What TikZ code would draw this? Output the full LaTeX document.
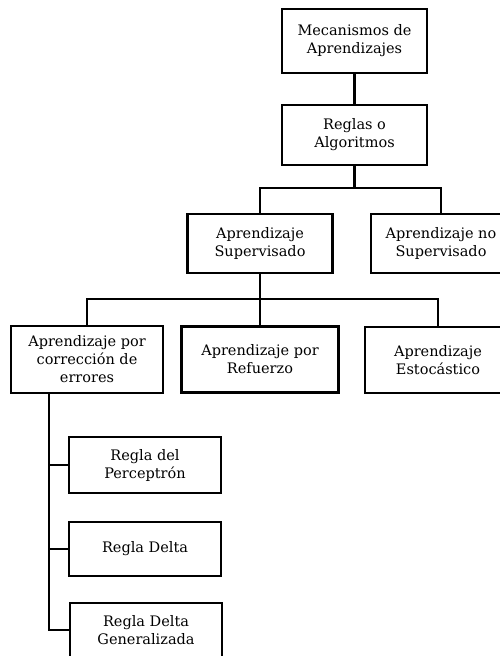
\documentclass[tikz,border=0pt]{standalone}
\usepackage{fontspec}
\setmainfont{DejaVu Serif}
\usepackage{tikz}
\usetikzlibrary{positioning, calc}

\begin{document}
\begin{tikzpicture}[x=1pt, y=-1pt,
    box/.style={draw, line width=2.4pt, align=center, inner sep=2pt,
                font=\fontsize{14.5}{18}\selectfont},
    link/.style={line width=2.4pt}]
    \useasboundingbox (0,0) rectangle (500,656);
    % top of the tree
    \node[box, minimum width=145pt, minimum height=64pt] (mec) at (354.5,41)
        {Mecanismos de\\Aprendizajes};
    \node[box, minimum width=145pt, minimum height=60pt] (reg) at (354.5,135)
        {Reglas o\\Algoritmos};
    % second level
    \node[box, minimum width=145pt, minimum height=59pt] (sup) at (260,243.5)
        {Aprendizaje\\Supervisado};
    \node[box, minimum width=140pt, minimum height=59pt] (nosup) at (441,243.5)
        {Aprendizaje no\\Supervisado};
    % third level
    \node[box, minimum width=152pt, minimum height=67pt] (cor) at (87,359.5)
        {Aprendizaje por\\corrección de\\errores};
    \node[box, minimum width=157pt, minimum height=66pt] (ref) at (260,359.5)
        {Aprendizaje por\\Refuerzo};
    \node[box, minimum width=146pt, minimum height=66pt] (est) at (438,360)
        {Aprendizaje\\Estocástico};
    % rules
    \node[box, minimum width=152pt, minimum height=56pt] (perc) at (145,465)
        {Regla del\\Perceptrón};
    \node[box, minimum width=152pt, minimum height=54pt] (delta) at (145,549)
        {Regla Delta};
    \node[box, minimum width=152pt, minimum height=54pt] (gen) at (146,630)
        {Regla Delta\\Generalizada};

    \coordinate (b1) at (354.5,188);
    \coordinate (b2) at (260,299);
    \coordinate (t) at ($(cor.south west)+(39,0)$);

    \draw[link] (mec) -- (reg);
    \draw[link] (reg) -- (b1) -| (sup.north);
    \draw[link] (b1) -| (nosup.north);
    \draw[link] (sup) -- (b2) -| (cor.north);
    \draw[link] (b2) -| (est.north);
    \draw[link] (b2) -- (ref);
    \foreach \n in {perc,delta,gen}
        \draw[link] (t) |- (\n.west);
\end{tikzpicture}
\end{document}
